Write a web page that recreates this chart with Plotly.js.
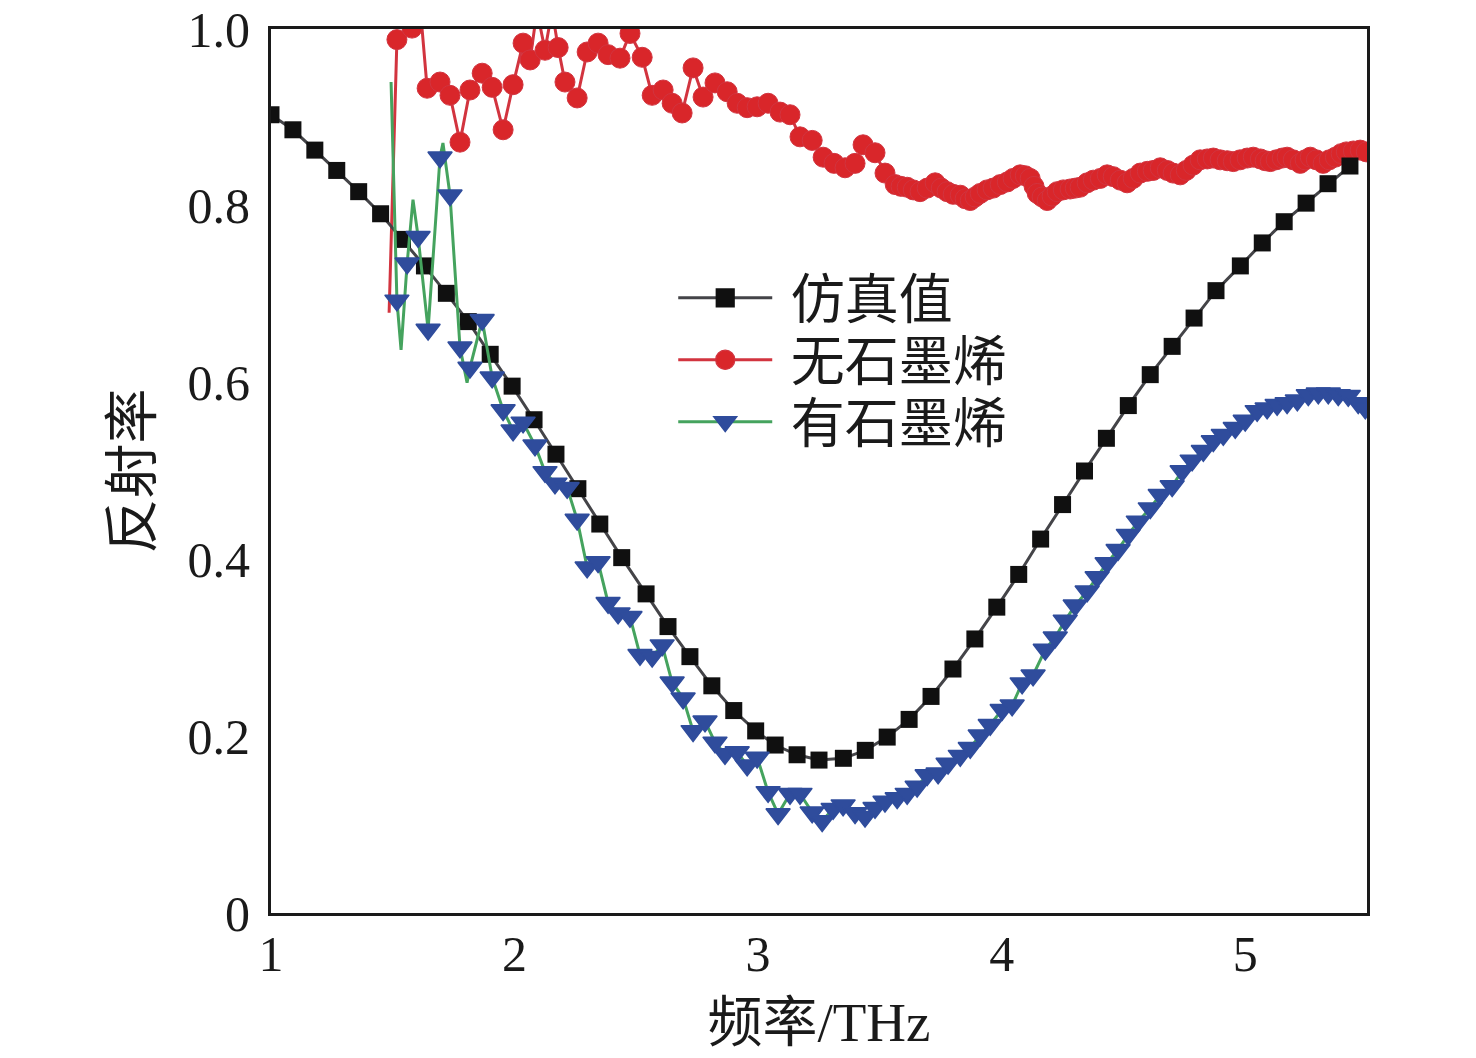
<!DOCTYPE html>
<html>
<head>
<meta charset="utf-8">
<script src="https://cdn.plot.ly/plotly-3.0.1.min.js"></script>
<style>
  html, body { margin: 0; padding: 0; background: #fff; }
  #chart { width: 1476px; height: 1058px; }
</style>
</head>
<body>
<div id="chart"></div>
<script>
// 仿真值 (simulation)
var simX = [1.00, 1.09, 1.18, 1.27, 1.36, 1.45, 1.54, 1.63, 1.72, 1.81,
            1.90, 1.99, 2.08, 2.17, 2.26, 2.35, 2.44, 2.54, 2.63, 2.72,
            2.81, 2.90, 2.99, 3.07, 3.16, 3.25, 3.35, 3.44, 3.53, 3.62,
            3.71, 3.80, 3.89, 3.98, 4.07, 4.16, 4.25, 4.34, 4.43, 4.52,
            4.61, 4.70, 4.79, 4.88, 4.98, 5.07, 5.16, 5.25, 5.34, 5.43];
var simY = [0.903, 0.886, 0.863, 0.840, 0.816, 0.791, 0.762, 0.732, 0.701, 0.669,
            0.632, 0.596, 0.558, 0.519, 0.480, 0.440, 0.402, 0.361, 0.324, 0.290,
            0.257, 0.229, 0.206, 0.190, 0.179, 0.173, 0.175, 0.184, 0.199, 0.219,
            0.245, 0.276, 0.310, 0.346, 0.383, 0.423, 0.462, 0.500, 0.537, 0.574,
            0.609, 0.641, 0.673, 0.704, 0.732, 0.758, 0.782, 0.803, 0.825, 0.845];

// 无石墨烯 (without graphene)
var bareX = [1.485, 1.517, 1.579, 1.612, 1.641, 1.694, 1.735, 1.776, 1.817, 1.867,
             1.908, 1.953, 1.994, 2.035, 2.064, 2.092, 2.125, 2.154, 2.179, 2.207,
             2.257, 2.298, 2.343, 2.384, 2.433, 2.474, 2.524, 2.565, 2.610, 2.647,
             2.688, 2.733, 2.774, 2.823, 2.873, 2.914, 2.955, 2.996, 3.041, 3.090,
             3.131, 3.172, 3.222, 3.267, 3.312, 3.357, 3.398, 3.431, 3.480, 3.521,
             3.563, 3.587, 3.612, 3.637, 3.665, 3.694, 3.727, 3.752, 3.776, 3.801,
             3.830, 3.850, 3.871, 3.891, 3.912, 3.940, 3.965, 3.994, 4.023, 4.047,
             4.076, 4.097, 4.117, 4.133, 4.146, 4.166, 4.187, 4.207, 4.228, 4.253,
             4.281, 4.302, 4.322, 4.351, 4.376, 4.405, 4.433, 4.458, 4.487, 4.515,
             4.540, 4.569, 4.598, 4.622, 4.651, 4.680, 4.704, 4.733, 4.758, 4.786,
             4.815, 4.844, 4.869, 4.897, 4.926, 4.951, 4.979, 5.008, 5.033, 5.062,
             5.082, 5.103, 5.127, 5.152, 5.172, 5.197, 5.226, 5.246, 5.267, 5.292,
             5.320, 5.345, 5.370, 5.394, 5.415, 5.444, 5.472, 5.497];
var bareY = [0.679, 0.988, 1.001, 1.027, 0.933, 0.940, 0.925, 0.872, 0.931, 0.950,
             0.934, 0.886, 0.937, 0.984, 0.965, 1.021, 0.976, 1.021, 0.979, 0.940,
             0.922, 0.974, 0.984, 0.971, 0.967, 0.995, 0.968, 0.925, 0.931, 0.916,
             0.905, 0.956, 0.923, 0.939, 0.929, 0.916, 0.911, 0.912, 0.916, 0.906,
             0.903, 0.878, 0.874, 0.855, 0.848, 0.843, 0.848, 0.869, 0.860, 0.837,
             0.824, 0.822, 0.821, 0.818, 0.816, 0.820, 0.826, 0.820, 0.816, 0.813,
             0.812, 0.808, 0.806, 0.810, 0.814, 0.818, 0.820, 0.824, 0.827, 0.831,
             0.835, 0.834, 0.831, 0.822, 0.814, 0.810, 0.806, 0.811, 0.816, 0.818,
             0.819, 0.820, 0.821, 0.826, 0.829, 0.831, 0.835, 0.833, 0.829, 0.826,
             0.831, 0.837, 0.839, 0.840, 0.843, 0.840, 0.837, 0.835, 0.840, 0.846,
             0.852, 0.853, 0.854, 0.852, 0.851, 0.850, 0.852, 0.854, 0.855, 0.853,
             0.851, 0.850, 0.852, 0.854, 0.855, 0.852, 0.848, 0.852, 0.855, 0.852,
             0.848, 0.852, 0.855, 0.859, 0.861, 0.862, 0.863, 0.861];
// points on the line that carry no marker
var bareLineOnly = [1.485];

// 有石墨烯 (with graphene)
var grapX = [1.493, 1.517, 1.534, 1.559, 1.583, 1.604, 1.645, 1.694, 1.706, 1.735,
             1.776, 1.805, 1.817, 1.867, 1.908, 1.953, 1.994, 2.035, 2.084, 2.125,
             2.166, 2.216, 2.257, 2.298, 2.343, 2.384, 2.425, 2.474, 2.515, 2.565,
             2.606, 2.647, 2.692, 2.733, 2.782, 2.823, 2.864, 2.914, 2.955, 2.996,
             3.041, 3.082, 3.131, 3.172, 3.222, 3.263, 3.308, 3.349, 3.398, 3.439,
             3.480, 3.521, 3.571, 3.612, 3.653, 3.694, 3.739, 3.780, 3.830, 3.871,
             3.912, 3.953, 4.002, 4.043, 4.084, 4.129, 4.179, 4.220, 4.261, 4.302,
             4.351, 4.392, 4.433, 4.478, 4.520, 4.561, 4.610, 4.651, 4.700, 4.741,
             4.782, 4.828, 4.869, 4.910, 4.959, 5.000, 5.049, 5.090, 5.131, 5.172,
             5.214, 5.259, 5.300, 5.341, 5.382, 5.423, 5.464, 5.493];
var grapY = [0.940, 0.693, 0.637, 0.735, 0.807, 0.765, 0.660, 0.855, 0.871, 0.812,
             0.640, 0.600, 0.617, 0.671, 0.606, 0.569, 0.546, 0.555, 0.529, 0.499,
             0.486, 0.481, 0.445, 0.391, 0.397, 0.351, 0.339, 0.335, 0.292, 0.290,
             0.303, 0.261, 0.243, 0.206, 0.217, 0.193, 0.180, 0.182, 0.167, 0.176,
             0.137, 0.112, 0.135, 0.135, 0.114, 0.104, 0.118, 0.122, 0.113, 0.109,
             0.119, 0.126, 0.130, 0.135, 0.143, 0.156, 0.158, 0.169, 0.178, 0.187,
             0.201, 0.213, 0.230, 0.235, 0.260, 0.269, 0.298, 0.312, 0.331, 0.348,
             0.364, 0.380, 0.396, 0.411, 0.428, 0.443, 0.458, 0.473, 0.483, 0.500,
             0.512, 0.523, 0.534, 0.541, 0.549, 0.557, 0.568, 0.571, 0.575, 0.577,
             0.580, 0.586, 0.588, 0.588, 0.586, 0.585, 0.577, 0.571];
var grapLineOnly = [1.493, 1.534, 1.583, 1.706, 1.805];

var xTicks = [1, 2, 3, 4, 5];
var yTicks = [0, 0.2, 0.4, 0.6, 0.8, 1.0];
var yTickText = ['0', '0.2', '0.4', '0.6', '0.8', '1.0'];

var serif = '"Liberation Serif", "Times New Roman", "Noto Sans CJK SC", serif';
var ink = '#1a1a1a';

function sizes(xs, skip, s) {
  return xs.map(function (x) { return skip.indexOf(x) >= 0 ? 0 : s; });
}

var traceBare = {
  x: bareX, y: bareY, name: '\u00a0无石墨烯', legendrank: 2,
  type: 'scatter', mode: 'lines+markers',
  line: {color: '#d2343f', width: 3},
  marker: {symbol: 'circle', color: '#d9262a', opacity: 1, size: sizes(bareX, bareLineOnly, 20)}
};

var traceSim = {
  x: simX, y: simY, name: '\u00a0仿真值', legendrank: 1,
  type: 'scatter', mode: 'lines+markers',
  line: {color: '#444448', width: 3},
  marker: {symbol: 'square', color: '#101010', opacity: 1, size: 17}
};

var traceGrap = {
  x: grapX, y: grapY, name: '\u00a0有石墨烯', legendrank: 3,
  type: 'scatter', mode: 'lines+markers',
  line: {color: '#45a35e', width: 3},
  marker: {symbol: 'triangle-down', color: '#2f4c9c', opacity: 1,
           line: {color: '#2f4c9c', width: 1.5},
           size: sizes(grapX, grapLineOnly, 21)}
};

var layout = {
  width: 1476, height: 1058,
  margin: {l: 271, r: 109, t: 29, b: 145},
  paper_bgcolor: '#fff', plot_bgcolor: '#fff',
  showlegend: true,
  legend: {
    x: 0.367, y: 0.743, xanchor: 'left', yanchor: 'top',
    bgcolor: 'rgba(0,0,0,0)', borderwidth: 0,
    itemwidth: 94,
    font: {family: serif, size: 54, color: ink}
  },
  xaxis: {
    range: [1, 5.5], tickvals: xTicks, ticks: '', showgrid: false, zeroline: false,
    showline: true, mirror: true, linecolor: ink, linewidth: 3,
    ticklabelstandoff: -5,
    tickfont: {family: serif, size: 50, color: ink},
    title: {text: '频率/THz', font: {family: serif, size: 55, color: ink}, standoff: 22}
  },
  yaxis: {
    range: [0, 1], tickvals: yTicks, ticktext: yTickText, ticks: '', showgrid: false, zeroline: false,
    showline: true, mirror: true, linecolor: ink, linewidth: 3,
    ticklabelstandoff: 8,
    tickfont: {family: serif, size: 50, color: ink},
    title: {text: '反射率', font: {family: serif, size: 55, color: ink}, standoff: 19}
  }
};

Plotly.newPlot('chart', [traceBare, traceSim, traceGrap], layout, {staticPlot: true})
  .then(function (gd) {
    // tighten legend rows to the figure's spacing and enlarge the symbols
    var rows = gd.querySelectorAll('.legend .traces');
    var y0 = null;
    rows.forEach(function (g, i) {
      var m = /translate\(\s*([-\d.]+)[ ,]+([-\d.]+)\s*\)/.exec(g.getAttribute('transform') || '');
      if (!m) return;
      if (y0 === null) y0 = parseFloat(m[2]);
      g.setAttribute('transform', 'translate(' + m[1] + ',' + (y0 + i * 62) + ')');
      g.querySelectorAll('.legendpoints path.scatterpts').forEach(function (p) {
        var t = p.getAttribute('transform') || '';
        p.setAttribute('transform', t + ' scale(1.2)');
      });
    });
  });
</script>
</body>
</html>
